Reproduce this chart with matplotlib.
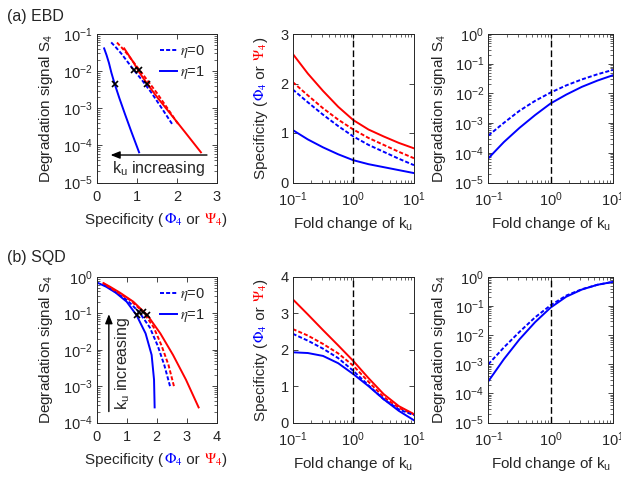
import matplotlib
matplotlib.use('Agg')
import matplotlib.pyplot as plt
import numpy as np
from matplotlib.ticker import LogLocator, NullFormatter, FixedLocator

# ---------------- data ----------------
fold = [0.1, 0.1778, 0.3162, 0.5623, 1.0, 1.778, 3.162, 5.623, 10.0]

# EBD
ebd_phi_eta0 = [1.88, 1.62, 1.37, 1.14, 0.93, 0.76, 0.62, 0.48, 0.35]
ebd_phi_eta1 = [1.06, 0.87, 0.71, 0.57, 0.45, 0.37, 0.31, 0.25, 0.19]
ebd_psi_eta0 = [2.03, 1.76, 1.50, 1.27, 1.07, 0.90, 0.76, 0.62, 0.49]
ebd_psi_eta1 = [2.60, 2.20, 1.85, 1.53, 1.26, 1.07, 0.93, 0.80, 0.69]
ebd_S_eta0 = [3.8e-4, 1.02e-3, 2.6e-3, 5.6e-3, 1.07e-2, 1.86e-2, 2.95e-2, 4.4e-2, 6.2e-2]
ebd_S_eta1 = [6.5e-5, 2.3e-4, 6.9e-4, 1.86e-3, 4.6e-3, 9.1e-3, 1.66e-2, 2.7e-2, 4.1e-2]

# SQD
sqd_phi_eta0 = [2.44, 2.25, 2.03, 1.77, 1.42, 1.02, 0.64, 0.36, 0.20]
sqd_phi_eta1 = [1.93, 1.91, 1.83, 1.63, 1.33, 1.00, 0.64, 0.32, 0.06]
sqd_psi_eta0 = [2.57, 2.39, 2.16, 1.90, 1.56, 1.12, 0.70, 0.40, 0.22]
sqd_psi_eta1 = [3.39, 2.97, 2.54, 2.12, 1.69, 1.22, 0.78, 0.45, 0.23]
sqd_S_eta0 = [1.0e-3, 3.8e-3, 1.3e-2, 4.1e-2, 0.107, 0.23, 0.38, 0.54, 0.68]
sqd_S_eta1 = [2.6e-4, 1.5e-3, 7.2e-3, 2.8e-2, 8.9e-2, 0.21, 0.37, 0.54, 0.68]

legend_labels = [r'$\eta$=0', r'$\eta$=1']

# ---------------- style ----------------
GREY = '#262626'
plt.rcParams.update({
    'font.family': ['Liberation Sans', 'DejaVu Sans'],
    'mathtext.fontset': 'custom',
    'mathtext.rm': 'Liberation Sans',
    'mathtext.it': 'Liberation Sans:italic',
    'mathtext.bf': 'Liberation Sans:bold',
    'mathtext.sf': 'Liberation Sans',
    'axes.linewidth': 0.7,
    'axes.edgecolor': GREY,
    'xtick.color': GREY, 'ytick.color': GREY,
    'xtick.direction': 'in', 'ytick.direction': 'in',
    'xtick.top': True, 'ytick.right': True,
    'xtick.major.size': 3.5, 'ytick.major.size': 3.5,
    'xtick.minor.size': 2.0, 'ytick.minor.size': 2.0,
    'xtick.major.width': 0.6, 'ytick.major.width': 0.6,
    'xtick.minor.width': 0.5, 'ytick.minor.width': 0.5,
    'xtick.labelsize': 10.5, 'ytick.labelsize': 10.5,
    'xtick.major.pad': 5.5, 'ytick.major.pad': 3,
    'lines.scale_dashes': False,
})

W, H = 621, 483
fig = plt.figure(figsize=(W / 100, H / 100), dpi=100)


def rect(l, t, r, b):
    return [l / W, 1 - b / H, (r - l) / W, (b - t) / H]


cols = [(96.5, 217.0), (292.7, 414.0), (488.3, 613.0)]
rows = [(34.0, 182.5), (277.0, 422.5)]

LW = 1.4
DASH = (0, (2.9, 1.5))
VDASH = (0, (4.8, 2.2))
FS_LAB = 11


def style_log_y(ax, lo, hi):
    ax.set_yscale('log')
    ax.set_ylim(lo, hi)
    ax.yaxis.set_major_locator(LogLocator(base=10, numticks=12))
    ax.yaxis.set_minor_locator(LogLocator(base=10, subs=np.arange(2, 10), numticks=12))
    ax.yaxis.set_minor_formatter(NullFormatter())


def style_log_x(ax):
    ax.set_xscale('log')
    ax.set_xlim(0.1, 10)
    ax.xaxis.set_major_locator(FixedLocator([0.1, 1, 10]))
    ax.xaxis.set_minor_locator(LogLocator(base=10, subs=np.arange(2, 10), numticks=12))
    ax.xaxis.set_minor_formatter(NullFormatter())


def colored_label(x_px, y_px, pieces, fontsize, rotation=0):
    r = fig.canvas.get_renderer()
    widths = []
    for s, c, mff in pieces:
        t1 = fig.text(0, 0, '|' + s + '|', fontsize=fontsize, math_fontfamily=mff)
        t2 = fig.text(0, 0, '||', fontsize=fontsize, math_fontfamily=mff)
        w = t1.get_window_extent(r).width - t2.get_window_extent(r).width
        t1.remove()
        t2.remove()
        widths.append(w)
    total = sum(widths)
    pos = -total / 2
    for (s, c, mff), w in zip(pieces, widths):
        if rotation == 0:
            fig.text((x_px + pos) / W, 1 - y_px / H, s, color=c, fontsize=fontsize,
                     math_fontfamily=mff, ha='left', va='baseline')
        else:
            fig.text(x_px / W, 1 - (y_px - pos) / H, s, color=c, fontsize=fontsize,
                     math_fontfamily=mff, ha='left', va='baseline', rotation=90,
                     rotation_mode='anchor')
        pos += w


spec_pieces = [("Specificity (", GREY, 'custom'),
               (r"$\Phi_4$", 'b', 'stix'),
               (" or ", GREY, 'custom'),
               (r"$\Psi_4$", 'r', 'stix'),
               (")", GREY, 'custom')]

datasets = [
    dict(phi0=ebd_phi_eta0, phi1=ebd_phi_eta1, psi0=ebd_psi_eta0, psi1=ebd_psi_eta1,
         S0=ebd_S_eta0, S1=ebd_S_eta1, xmax=3, xt=[0, 1, 2, 3], ylo=1e-5, yhi=1e-1,
         smax=3, st=[0, 1, 2, 3], title='(a) EBD', tbase=20.7),
    dict(phi0=sqd_phi_eta0, phi1=sqd_phi_eta1, psi0=sqd_psi_eta0, psi1=sqd_psi_eta1,
         S0=sqd_S_eta0, S1=sqd_S_eta1, xmax=4, xt=[0, 1, 2, 3, 4], ylo=1e-4, yhi=1e0,
         smax=4, st=[0, 1, 2, 3, 4], title='(b) SQD', tbase=261.7),
]

i1 = fold.index(1.0)

for ri, d in enumerate(datasets):
    t, b = rows[ri]
    yc = (t + b) / 2
    # ---- left: S4 vs specificity ----
    ax = fig.add_axes(rect(cols[0][0], t, cols[0][1], b))
    l0, = ax.plot(d['phi0'], d['S0'], color='b', lw=LW, ls=DASH)
    l1, = ax.plot(d['phi1'], d['S1'], color='b', lw=LW)
    ax.plot(d['psi0'], d['S0'], color='r', lw=LW, ls=DASH)
    ax.plot(d['psi1'], d['S1'], color='r', lw=LW)
    mx = [d['phi1'][i1], d['phi0'][i1], d['psi0'][i1], d['psi1'][i1]]
    my = [d['S1'][i1], d['S0'][i1], d['S0'][i1], d['S1'][i1]]
    ax.plot(mx, my, ls='none', marker='x', color='k', ms=5, mew=1.2, zorder=5)
    ax.set_xlim(0, d['xmax'])
    ax.set_xticks(d['xt'])
    style_log_y(ax, d['ylo'], d['yhi'])
    leg = ax.legend([l0, l1], legend_labels, loc='upper left',
                    bbox_to_anchor=(160 / W, 1 - (t + 9) / H), bbox_transform=fig.transFigure,
                    frameon=False, fontsize=10.5, handlelength=1.15, handletextpad=0.2,
                    labelspacing=0.25, borderpad=0, borderaxespad=0)
    for tx in leg.get_texts():
        tx.set_math_fontfamily('stix')
        tx.set_color(GREY)
    if ri == 0:
        ax.annotate('', xy=(0.35, 5.5e-5), xytext=(2.75, 5.5e-5),
                    arrowprops=dict(arrowstyle='-|>,head_length=0.55,head_width=0.22',
                                    color='k', lw=1.0, shrinkA=0, shrinkB=0))
        ax.text(1.55, 1.8e-5, r'k$_\mathrm{u}$ increasing', fontsize=11.5, color=GREY,
                ha='center', va='baseline')
    else:
        ax.annotate('', xy=(0.41, 0.095), xytext=(0.41, 2.0e-4),
                    arrowprops=dict(arrowstyle='-|>,head_length=0.55,head_width=0.22',
                                    color='k', lw=1.0, shrinkA=0, shrinkB=0))
        ax.text(0.85, 10 ** -2.38, r'k$_\mathrm{u}$ increasing', fontsize=11.5, color=GREY,
                ha='center', va='center', rotation=90)
    fig.text(50 / W, 1 - yc / H, r'Degradation signal S$_4$', rotation=90, rotation_mode='anchor',
             ha='center', va='baseline', fontsize=FS_LAB, color=GREY)
    colored_label(156.5, b + 41.5, spec_pieces, FS_LAB)

    # ---- middle: specificity vs fold change ----
    ax = fig.add_axes(rect(cols[1][0], t, cols[1][1], b))
    ax.plot(fold, d['psi1'], color='r', lw=LW)
    ax.plot(fold, d['psi0'], color='r', lw=LW, ls=DASH)
    ax.plot(fold, d['phi0'], color='b', lw=LW, ls=DASH)
    ax.plot(fold, d['phi1'], color='b', lw=LW)
    ax.axvline(1, color='k', lw=1.0, ls=VDASH)
    style_log_x(ax)
    ax.set_ylim(0, d['smax'])
    ax.set_yticks(d['st'])
    colored_label(265, yc, spec_pieces, FS_LAB, rotation=90)
    fig.text((cols[1][0] + cols[1][1]) / 2 / W, 1 - (b + 45.5) / H, r'Fold change of k$_\mathrm{u}$',
             ha='center', va='baseline', fontsize=FS_LAB, color=GREY)

    # ---- right: S4 vs fold change ----
    ax = fig.add_axes(rect(cols[2][0], t, cols[2][1], b))
    ax.plot(fold, d['S0'], color='b', lw=LW, ls=DASH)
    ax.plot(fold, d['S1'], color='b', lw=LW)
    ax.axvline(1, color='k', lw=1.0, ls=VDASH)
    style_log_x(ax)
    style_log_y(ax, 1e-5, 1e0)
    fig.text(443.3 / W, 1 - yc / H, r'Degradation signal S$_4$', rotation=90, rotation_mode='anchor',
             ha='center', va='baseline', fontsize=FS_LAB, color=GREY)
    fig.text((cols[2][0] + cols[2][1]) / 2 / W, 1 - (b + 45.5) / H, r'Fold change of k$_\mathrm{u}$',
             ha='center', va='baseline', fontsize=FS_LAB, color=GREY)

    fig.text(6.7 / W, 1 - d['tbase'] / H, d['title'],
             fontsize=11.5, color=GREY, ha='left', va='baseline')

fig.savefig('out.png', dpi=100)
